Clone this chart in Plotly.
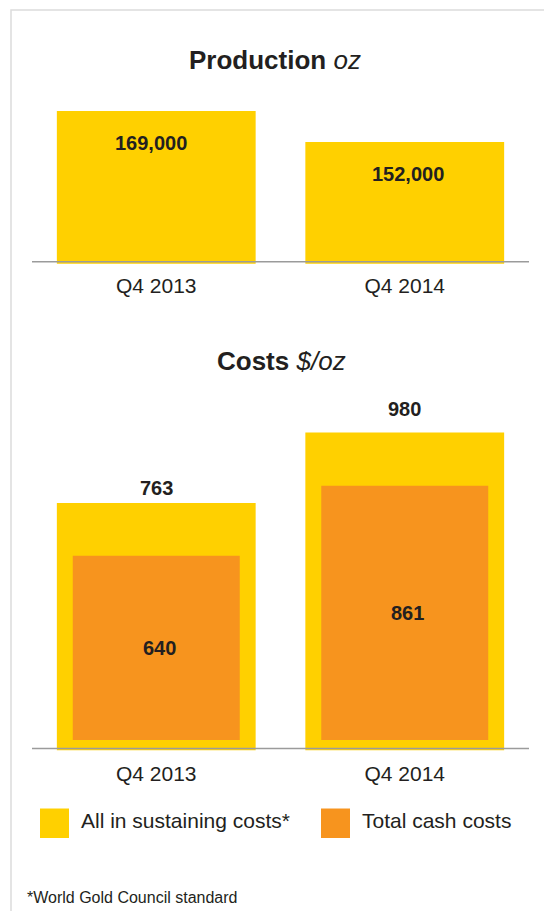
import plotly.graph_objects as go

# ---- data ----
quarters = ["Q4 2013", "Q4 2014"]
production_oz = [169000, 152000]
aisc_per_oz = [763, 980]          # all in sustaining costs, $/oz
cash_cost_per_oz = [640, 861]     # total cash costs, $/oz

production_labels = ["169,000", "152,000"]
aisc_labels = ["763", "980"]
cash_labels = ["640", "861"]

legend_names = ["All in sustaining costs*", "Total cash costs"]
footnote = "*World Gold Council standard"

# ---- style ----
W, H = 544, 911
YELLOW = "#FFD000"
ORANGE = "#F7941E"
TEXT = "#231F20"
GRID = "#9B9B9B"
FONT = "Liberation Sans, Arial, Helvetica, sans-serif"


def px_x(p):
    return p / W


def px_y(p):
    return 1 - p / H


X_LEFT, X_RIGHT = 32, 529

# production panel: plot area in pixels and scale (px per oz)
P_TOP, P_BOT = 100, 263.7
P_SCALE = 1.8235 / 1000
P_LO = 85200
p_range = [P_LO, P_LO + (P_BOT - P_TOP) / P_SCALE]

# cost panel (AISC) plot area
C_TOP, C_BOT = 400, 750.6
C_SCALE = 0.32463
c_range = [0, (C_BOT - C_TOP) / C_SCALE]

# inset cash-cost bars sit on their own axis, ending just above the baseline
K_TOP, K_BOT = 400, 740
K_SCALE = 0.31674
K_LO = 58.1
k_range = [K_LO, K_LO + (K_BOT - K_TOP) / K_SCALE]

fig = go.Figure()

fig.add_trace(go.Bar(x=quarters, y=production_oz, marker=dict(color=YELLOW, line_width=0),
                     xaxis="x", yaxis="y", showlegend=False, hoverinfo="skip"))
fig.add_trace(go.Bar(x=quarters, y=aisc_per_oz, marker=dict(color=YELLOW, line_width=0),
                     xaxis="x2", yaxis="y2", showlegend=False, hoverinfo="skip"))
# narrower inset bars for the cash-cost series
fig.add_trace(go.Bar(x=quarters, y=cash_cost_per_oz, width=0.672,
                     marker=dict(color=ORANGE, line_width=0),
                     xaxis="x3", yaxis="y3", showlegend=False, hoverinfo="skip"))

xdom = [px_x(X_LEFT), px_x(X_RIGHT)]
tickfont = dict(family=FONT, size=21, color=TEXT)
hidden = dict(visible=False, fixedrange=True)

fig.update_layout(
    width=W, height=H,
    margin=dict(l=0, r=0, t=0, b=0),
    paper_bgcolor="white", plot_bgcolor="rgba(0,0,0,0)",
    barmode="overlay",
    font=dict(family=FONT, color=TEXT),
    xaxis=dict(domain=xdom, anchor="y", showgrid=False, zeroline=False, showline=False,
               ticks="", tickfont=tickfont, ticklabelstandoff=7, fixedrange=True),
    yaxis=dict(domain=[px_y(P_BOT), px_y(P_TOP)], anchor="x", range=p_range, **hidden),
    xaxis2=dict(domain=xdom, anchor="y2", showgrid=False, zeroline=False, showline=False,
                ticks="", tickfont=tickfont, ticklabelstandoff=8, fixedrange=True),
    yaxis2=dict(domain=[px_y(C_BOT), px_y(C_TOP)], anchor="x2", range=c_range, **hidden),
    xaxis3=dict(domain=xdom, anchor="y3", **hidden),
    yaxis3=dict(domain=[px_y(K_BOT), px_y(K_TOP)], anchor="x3", range=k_range, **hidden),
    bargap=0.2,
)

shapes = [
    # outer frame
    dict(type="rect", xref="paper", yref="paper", x0=px_x(11), x1=px_x(600),
         y0=px_y(980), y1=px_y(10), line=dict(color="#DCDCDC", width=1.5),
         fillcolor="rgba(0,0,0,0)", layer="below"),
    # baselines
    dict(type="line", xref="paper", yref="paper", x0=px_x(X_LEFT), x1=px_x(X_RIGHT),
         y0=px_y(261.8), y1=px_y(261.8), line=dict(color=GRID, width=1.5)),
    dict(type="line", xref="paper", yref="paper", x0=px_x(X_LEFT), x1=px_x(X_RIGHT),
         y0=px_y(748.4), y1=px_y(748.4), line=dict(color=GRID, width=1.5)),
    # legend swatches
    dict(type="rect", xref="paper", yref="paper", x0=px_x(40), x1=px_x(69),
         y0=px_y(838), y1=px_y(808.5), fillcolor=YELLOW, line_width=0),
    dict(type="rect", xref="paper", yref="paper", x0=px_x(321), x1=px_x(350),
         y0=px_y(838), y1=px_y(808.5), fillcolor=ORANGE, line_width=0),
]
fig.update_layout(shapes=shapes)

ann = []
# panel titles
ann.append(dict(text="<b>Production</b> <i>oz</i>", xref="paper", yref="paper",
                x=px_x(275.3), y=px_y(60), xanchor="center", yanchor="middle",
                showarrow=False, font=dict(size=26, family=FONT, color=TEXT)))
ann.append(dict(text="<b>Costs</b> <i>$/oz</i>", xref="paper", yref="paper",
                x=px_x(281), y=px_y(361), xanchor="center", yanchor="middle",
                showarrow=False, font=dict(size=26, family=FONT, color=TEXT)))

valfont = dict(size=20, family=FONT, color=TEXT)
# production values, inside the bar near its top
for q, v, lab, dx in zip(quarters, production_oz, production_labels, [-5.5, 3]):
    ann.append(dict(text=f"<b>{lab}</b>", x=q, y=v, xref="x", yref="y",
                    yanchor="middle", xanchor="center", yshift=-32.5, xshift=dx,
                    showarrow=False, font=valfont))
# AISC values, above the bar
for q, v, lab, dy in zip(quarters, aisc_per_oz, aisc_labels, [15, 23.5]):
    ann.append(dict(text=f"<b>{lab}</b>", x=q, y=v, xref="x2", yref="y2",
                    yanchor="middle", xanchor="center", yshift=dy,
                    showarrow=False, font=valfont))
# cash-cost values, centred in the visible inset bar
for q, v, lab in zip(quarters, cash_cost_per_oz, cash_labels):
    ann.append(dict(text=f"<b>{lab}</b>", x=q, y=(k_range[0] + v) / 2, xref="x3", yref="y3",
                    yanchor="middle", xanchor="center", xshift=3,
                    showarrow=False, font=valfont))

# legend text
for name, xpx in zip(legend_names, [79, 360]):
    ann.append(dict(text=name, xref="paper", yref="paper", x=px_x(xpx), y=px_y(820.5),
                    xanchor="left", yanchor="middle", showarrow=False,
                    font=dict(size=21, family=FONT, color=TEXT)))
# footnote
ann.append(dict(text=footnote, xref="paper", yref="paper", x=px_x(25), y=px_y(897),
                xanchor="left", yanchor="middle", showarrow=False,
                font=dict(size=16, family=FONT, color=TEXT)))

fig.update_layout(annotations=ann)
fig.write_html("out.html", config=dict(displayModeBar=False))
